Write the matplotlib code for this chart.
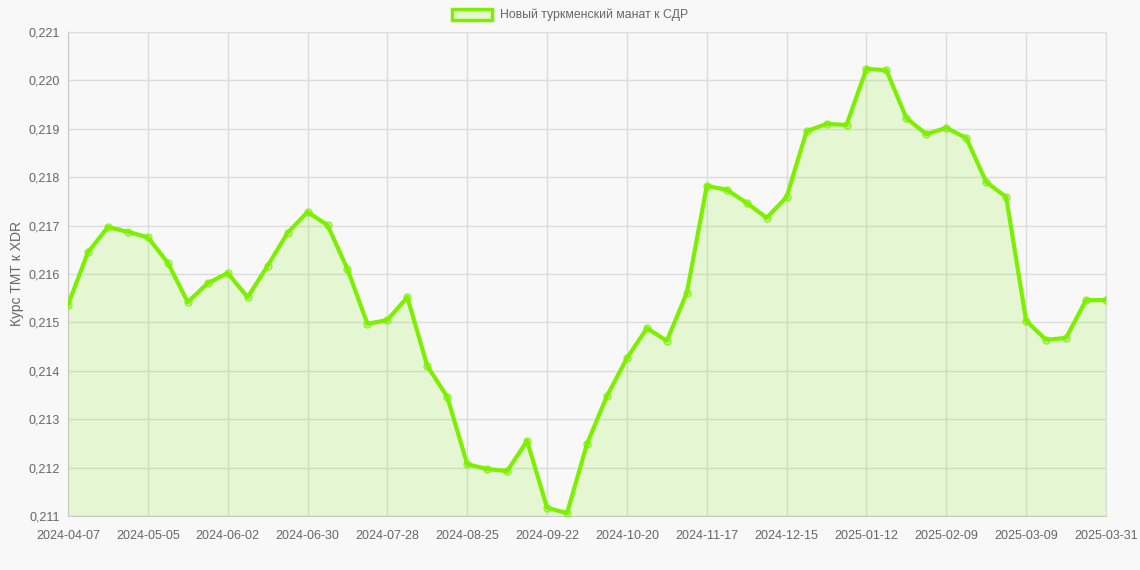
import matplotlib.pyplot as plt
import numpy as np
from matplotlib.ticker import FuncFormatter, MultipleLocator
from matplotlib.patches import Patch

plt.rcParams['font.family'] = ['Liberation Sans', 'DejaVu Sans']

# weekly rate of the Turkmen manat to SDR (53 points)
rates = [0.21536, 0.21645, 0.21697, 0.21687, 0.21676, 0.21623, 0.21542, 0.21581,
         0.21602, 0.21552, 0.21617, 0.21685, 0.21728, 0.21701, 0.21610, 0.21497,
         0.21505, 0.21552, 0.21410, 0.21346, 0.21207, 0.21197, 0.21193, 0.21255,
         0.21117, 0.21106, 0.21249, 0.21348, 0.21426, 0.21488, 0.21462, 0.21561,
         0.21782, 0.21774, 0.21747, 0.21716, 0.21759, 0.21895, 0.21910, 0.21908,
         0.22024, 0.22021, 0.21922, 0.21889, 0.21902, 0.21881, 0.21790, 0.21759,
         0.21503, 0.21464, 0.21468, 0.21546, 0.21546]
tick_labels = ['2024-04-07', '2024-05-05', '2024-06-02', '2024-06-30', '2024-07-28',
               '2024-08-25', '2024-09-22', '2024-10-20', '2024-11-17', '2024-12-15',
               '2025-01-12', '2025-02-09', '2025-03-09', '2025-03-31']
tick_step = 4

green = '#7CF000'
bg = '#f8f8f8'
x = np.arange(len(rates))

fig = plt.figure(figsize=(11.4, 5.7), dpi=100, facecolor=bg)
ax = fig.add_axes([68 / 1140, 54 / 570, 1038 / 1140, 484 / 570])
ax.set_facecolor(bg)

ax.fill_between(x, rates, 0.211, color=green, alpha=0.15, linewidth=0)
ax.plot(x, rates, color=green, linewidth=3, zorder=3)
ax.plot(x, rates, linestyle='none', marker='o', markersize=5,
        markerfacecolor=(0.49, 0.94, 0.0, 0.25), markeredgecolor=(0.49, 0.94, 0.0, 0.8),
        markeredgewidth=1, zorder=4)

ax.set_xlim(0, len(rates) - 1)
ax.set_ylim(0.211, 0.221)
ax.set_xticks(x[::tick_step])
ax.set_xticklabels(tick_labels)
ax.yaxis.set_major_locator(MultipleLocator(0.001))
ax.yaxis.set_major_formatter(FuncFormatter(lambda v, p: f'{v:.3f}'.replace('.', ',')))

ax.grid(True, color='#dcdcdc', linewidth=1)
ax.set_axisbelow(True)
for s in ax.spines.values():
    s.set_color('#dcdcdc')
ax.spines['left'].set_color('#c8c8c8')
ax.spines['bottom'].set_color('#c8c8c8')
ax.tick_params(colors='#666666', labelsize=9, length=0, pad=6)
ax.tick_params(axis='x', pad=10)
ax.set_ylabel('Курс ТМТ к XDR', color='#666666', fontsize=10, labelpad=3)

handle = Patch(facecolor='#e6f9d0', edgecolor=green, linewidth=2.5,
               label='Новый туркменский манат к СДР')
fig.legend(handles=[handle], loc='center', bbox_to_anchor=(0.5, 1 - 15 / 570),
           frameon=False, fontsize=8.8, labelcolor='#666666',
           handlelength=3.3, handleheight=1.0, handletextpad=0.6)

fig.savefig('out.png', dpi=100, facecolor=bg)
